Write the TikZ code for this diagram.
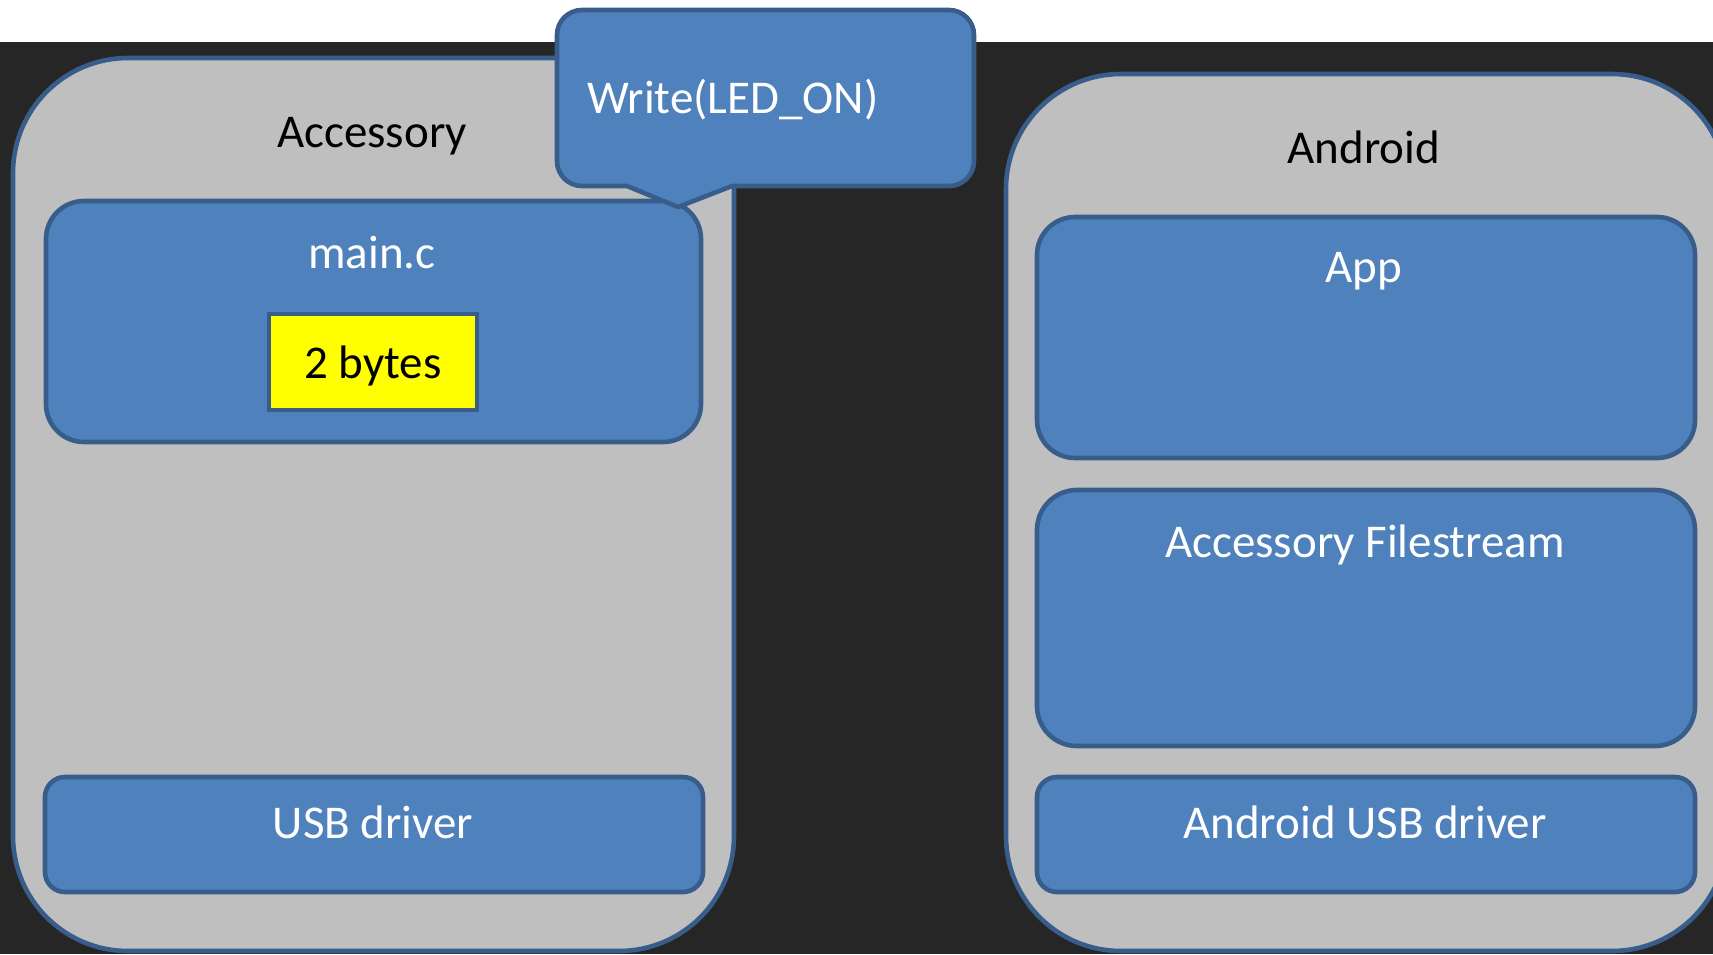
\documentclass[tikz,border=0pt]{standalone}
\usepackage{fontspec}
\setmainfont{Carlito}
\definecolor{bgdark}{HTML}{262626}
\definecolor{panelgray}{HTML}{BFBFBF}
\definecolor{boxblue}{HTML}{4F81BD}
\definecolor{edgeblue}{HTML}{385D8A}
\definecolor{bytesyellow}{HTML}{FFFF00}
\begin{document}
\begin{tikzpicture}[x=1pt,y=-1pt,
  panel/.style={draw=edgeblue, line width=4.6pt, fill=panelgray, rounded corners=115pt,
    inner sep=0pt, outer sep=0pt, anchor=north west},
  blk/.style={draw=edgeblue, line width=4.6pt, fill=boxblue, rounded corners=#1,
    inner sep=0pt, outer sep=0pt, anchor=north west},
  ybox/.style={draw=edgeblue, line width=4.6pt, fill=bytesyellow,
    inner sep=0pt, outer sep=0pt, anchor=north west},
  lbl/.style={font=\fontsize{47}{56}\selectfont, inner sep=0pt, anchor=base},
  wlbl/.style={lbl, text=white},
  blbl/.style={lbl, text=black}]
\useasboundingbox (0,0) rectangle (1713,954);
\clip (0,0) rectangle (1713,954);
\fill[white] (0,0) rectangle (1713,954);
\fill[bgdark] (0,41.5) rectangle (1713,954);

% panels
\node[panel, minimum width=721pt, minimum height=893pt] (acc) at (13,58) {};
\node[panel, minimum width=721pt, minimum height=877pt] (and) at (1006,74) {};

% accessory side
\node[blk=38pt, minimum width=655pt, minimum height=241pt] (mainc) at (46,201) {};
\node[ybox, minimum width=208pt, minimum height=96pt] (bytes) at (269,314) {};
\node[blk=20pt, minimum width=658pt, minimum height=115pt] (usb) at (45,777) {};

% android side
\node[blk=38pt, minimum width=658pt, minimum height=241pt] (app) at (1037,217) {};
\node[blk=40pt, minimum width=658pt, minimum height=256pt] (fs) at (1037,490) {};
\node[blk=20pt, minimum width=658pt, minimum height=115pt] (ausb) at (1037,777) {};

% callout
\coordinate (cbl) at (627,186);
\coordinate (ctip) at (678,207);
\coordinate (cbr) at (732,186);
\draw[edgeblue, line width=4.6pt, fill=boxblue, line join=miter]
  (582,10) -- (949,10) arc[start angle=90, end angle=0, radius=25pt]
  -- (974,161) arc[start angle=0, end angle=-90, radius=25pt]
  -- (cbr) -- (ctip) -- (cbl)
  -- (582,186) arc[start angle=-90, end angle=-180, radius=25pt]
  -- (557,35) arc[start angle=180, end angle=90, radius=25pt] -- cycle;

% labels
\node[blbl] (tacc) at (372,147) {Accessory};
\node[blbl] (tand) at (1364,163) {Android};
\node[wlbl, anchor=base west] (twrite) at (587,113) {Write(LED\_ON)};
\node[wlbl] (tmain) at (372,268) {main.c};
\node[blbl] (tbytes) at (373,378) {2 bytes};
\node[wlbl] (tusb) at (373,838) {USB driver};
\node[wlbl] (tapp) at (1364,282) {App};
\node[wlbl] (tfs) at (1365,557) {Accessory Filestream};
\node[wlbl] (tausb) at (1365,838) {Android USB driver};
\end{tikzpicture}
\end{document}
